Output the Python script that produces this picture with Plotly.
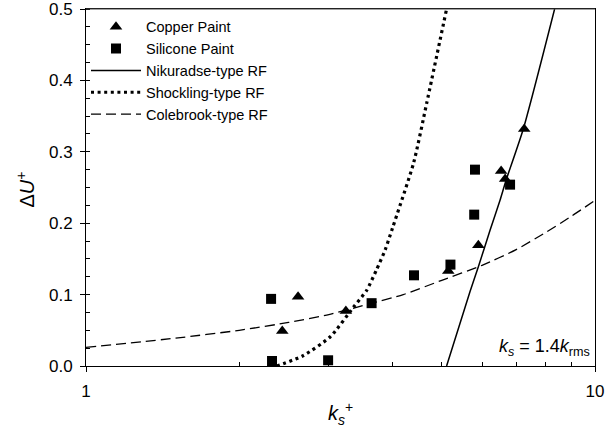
import plotly.graph_objects as go

# ---- data ----
copper_x = [2.43, 2.61, 3.24, 5.15, 5.90, 6.54, 6.66, 7.26]
copper_y = [0.049, 0.097, 0.077, 0.133, 0.169, 0.273, 0.262, 0.332]

silicone_x = [2.31, 2.32, 2.99, 3.64, 4.41, 5.20, 5.79, 5.81, 6.81]
silicone_y = [0.094, 0.007, 0.008, 0.088, 0.127, 0.142, 0.212, 0.275, 0.254]

nikuradse_x = [5.11, 5.68, 5.90, 6.22, 6.51, 6.69, 7.23, 8.33]
nikuradse_y = [0.0, 0.104, 0.139, 0.190, 0.2325, 0.2605, 0.332, 0.5]

shockling_x = [2.37, 2.67, 3.02, 3.35, 3.56, 3.72, 3.87, 4.00, 4.40, 4.67, 5.11]
shockling_y = [0.0, 0.0144, 0.041, 0.082, 0.106, 0.1345, 0.1625, 0.193, 0.284, 0.368, 0.5]

colebrook_x = [1.0, 1.5, 2.0, 2.5, 3.0, 3.6, 4.2, 5.0, 6.0, 7.0, 8.0, 9.0, 10.0]
colebrook_y = [0.026, 0.039, 0.050, 0.061, 0.072, 0.087, 0.100, 0.120, 0.141, 0.163, 0.187, 0.210, 0.232]

y_ticks = [0.0, 0.1, 0.2, 0.3, 0.4, 0.5]
x_ticks = [1, 10]
x_minor = [2, 3, 4, 5, 6, 7, 8, 9]

FONT = "Liberation Sans, Arial, sans-serif"

fig = go.Figure()
fig.add_trace(go.Scatter(x=copper_x, y=copper_y, mode="markers", name="Copper Paint",
                         marker=dict(symbol="triangle-up", size=11, color="black")))
fig.add_trace(go.Scatter(x=silicone_x, y=silicone_y, mode="markers", name="Silicone Paint",
                         marker=dict(symbol="square", size=10, color="black")))
fig.add_trace(go.Scatter(x=nikuradse_x, y=nikuradse_y, mode="lines", name="Nikuradse-type RF",
                         line=dict(color="black", width=1.5, shape="spline", smoothing=0.6)))
fig.add_trace(go.Scatter(x=shockling_x, y=shockling_y, mode="lines", name="Shockling-type RF",
                         line=dict(color="black", width=3.2, dash="3px,3.6px", shape="spline", smoothing=0.6)))
fig.add_trace(go.Scatter(x=colebrook_x, y=colebrook_y, mode="lines", name="Colebrook-type RF",
                         line=dict(color="black", width=1.3, dash="10px,5px", shape="spline", smoothing=0.6)))

fig.update_layout(
    width=615, height=429,
    margin=dict(l=86, r=20, t=9, b=63, autoexpand=False),
    paper_bgcolor="white", plot_bgcolor="white",
    font=dict(family=FONT, size=17, color="black"),
    showlegend=True,
    legend=dict(x=0.0, y=0.995, xanchor="left", yanchor="top", itemwidth=50,
                bgcolor="rgba(0,0,0,0)", font=dict(size=14.5), tracegroupgap=0),
    xaxis=dict(type="log", range=[0, 1], tickvals=x_ticks, ticktext=["1", "10"],
               ticks="outside", ticklen=5, tickcolor="black", showline=True, linecolor="black",
               linewidth=1, mirror=True, showgrid=False, zeroline=False, automargin=False,
               ticklabelstandoff=5, tickfont=dict(size=17), ticklabeloverflow="allow",
               minor=dict(tickvals=x_minor, ticks="inside", ticklen=4, tickcolor="black", showgrid=False)),
    yaxis=dict(range=[0, 0.5], tickvals=y_ticks, tickformat=".1f",
               ticks="outside", ticklen=5, tickcolor="black", showline=True, linecolor="black",
               linewidth=1, mirror=True, showgrid=False, zeroline=False, automargin=False,
               ticklabelstandoff=4, tickfont=dict(size=17), ticklabeloverflow="allow",
               minor=dict(dtick=0.025, ticks="inside", ticklen=4, tickcolor="black", showgrid=False)),
)

# plot frame (top edge drawn explicitly)
fig.add_shape(type="line", xref="paper", yref="paper", x0=0, x1=1, y0=1, y1=1,
              line=dict(color="#444", width=1), layer="above")

fig.add_annotation(text="Δ<i>U</i><sup>+</sup>", xref="paper", yref="paper", x=0, y=0.5,
                   xanchor="center", yanchor="middle",
                   xshift=-61, yshift=-2, textangle=-90, showarrow=False,
                   font=dict(size=20, family=FONT))
fig.add_annotation(text="<i>k<sub>s</sub></i><sup>+</sup>", xref="paper", yref="paper", x=0.5, y=0,
                   xanchor="center", yanchor="middle",
                   yshift=-47, xshift=0, showarrow=False, font=dict(size=20, family=FONT))
fig.add_annotation(text="<i>k<sub>s</sub></i> = 1.4<i>k</i><sub>rms</sub>", xref="paper", yref="paper",
                   x=1, y=0, xanchor="right", yanchor="bottom", xshift=-3, yshift=5,
                   showarrow=False, font=dict(size=18, family=FONT))

fig.write_html("out.html", config={"displayModeBar": False},
               post_script="document.body.style.margin='0';document.body.style.overflow='hidden';")
